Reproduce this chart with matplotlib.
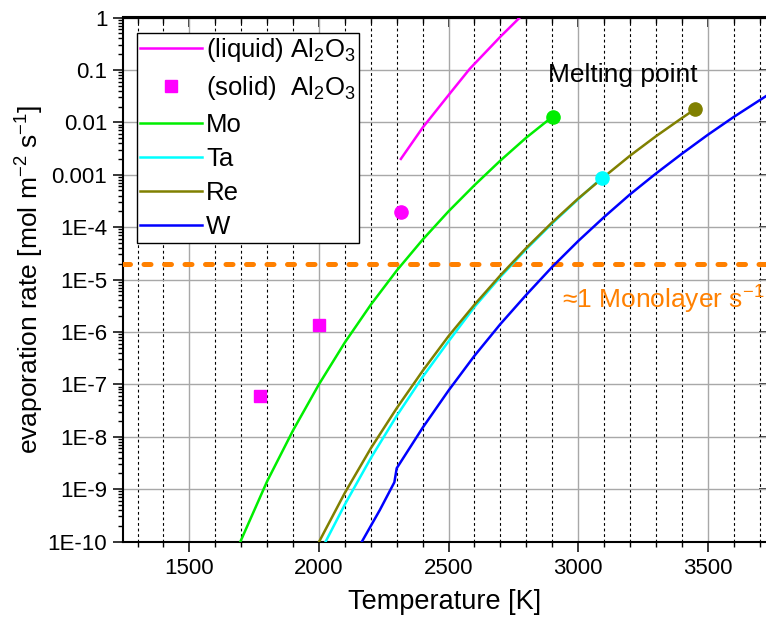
import matplotlib.pyplot as plt
from matplotlib.ticker import FixedLocator, FixedFormatter, LogLocator, MultipleLocator, NullFormatter, NullLocator

plt.rcParams['font.family'] = ['Liberation Sans', 'DejaVu Sans']
plt.rcParams['mathtext.fontset'] = 'custom'
plt.rcParams['mathtext.rm'] = 'Liberation Sans'
plt.rcParams['mathtext.it'] = 'Liberation Sans:italic'
plt.rcParams['mathtext.bf'] = 'Liberation Sans:bold'

# evaporation rates [mol m^-2 s^-1] vs temperature [K]
mo_T = [1697, 1800, 1900, 2000, 2100, 2200, 2300, 2400, 2500, 2600, 2700, 2800, 2902]
mo_rate = [1e-10, 1.41e-9, 1.32e-8, 1.0e-7, 6.3e-7, 3.3e-6, 1.48e-5, 5.75e-5, 2.0e-4, 6.3e-4, 1.86e-3, 5.1e-3, 1.29e-2]

ta_T = [2026, 2100, 2200, 2300, 2400, 2500, 2600, 2700, 2800, 2900, 3000, 3091]
ta_rate = [1e-10, 5.1e-10, 3.9e-9, 2.5e-8, 1.38e-7, 6.6e-7, 3.0e-6, 1.12e-5, 3.8e-5, 1.18e-4, 3.4e-4, 8.7e-4]

re_T = [2001, 2100, 2200, 2300, 2400, 2500, 2600, 2700, 2800, 2900, 3000, 3100, 3200, 3300, 3400, 3451]
re_rate = [1e-10, 8.5e-10, 6.0e-9, 3.5e-8, 1.8e-7, 8.3e-7, 3.3e-6, 1.2e-5, 4.0e-5, 1.23e-4, 3.5e-4, 9.1e-4, 2.3e-3, 5.4e-3, 1.2e-2, 1.78e-2]

w_T = [2166, 2235, 2291, 2300, 2400, 2500, 2600, 2700, 2800, 2900, 3000, 3100, 3200, 3300, 3400, 3500, 3600, 3700, 3725]
w_rate = [1e-10, 4.0e-10, 1.35e-9, 2.5e-9, 1.48e-8, 7.6e-8, 3.5e-7, 1.41e-6, 5.1e-6, 1.74e-5, 5.4e-5, 1.55e-4, 4.2e-4, 1.05e-3, 2.5e-3, 5.75e-3, 1.26e-2, 2.63e-2, 3.16e-2]

al2o3_liq_T = [2316, 2400, 2500, 2582, 2700, 2775]
al2o3_liq_rate = [2.0e-3, 7.9e-3, 3.3e-2, 0.105, 0.43, 1.0]

al2o3_sol_T = [1773, 2000]
al2o3_sol_rate = [6.0e-8, 1.37e-6]

# melting points: (T, rate)
melt_al2o3 = (2316, 1.96e-4)
melt_mo = (2902, 1.29e-2)
melt_ta = (3091, 8.7e-4)
melt_re = (3451, 1.78e-2)

monolayer_rate = 2e-5

ytick_vals = [1, 0.1, 0.01, 0.001, 1e-4, 1e-5, 1e-6, 1e-7, 1e-8, 1e-9, 1e-10]
ytick_labels = ["1", "0.1", "0.01", "0.001", "1E-4", "1E-5", "1E-6", "1E-7", "1E-8", "1E-9", "1E-10"]
xtick_vals = [1500, 2000, 2500, 3000, 3500]

fig = plt.figure(figsize=(7.66, 6.25), dpi=100)
ax = fig.add_axes([123.3 / 766, 1 - 541.5 / 625, 1 - 123.3 / 766, (541.5 - 17.5) / 625])

lw = 1.8
ax.plot(al2o3_liq_T, al2o3_liq_rate, color="#FF00FF", lw=lw, label="(liquid) Al$_2$O$_3$", zorder=4)
ax.plot(al2o3_sol_T, al2o3_sol_rate, ls="none", marker="s", ms=8.5, color="#FF00FF",
        label="(solid)  Al$_2$O$_3$", zorder=4)
ax.plot(mo_T, mo_rate, color="#00EE00", lw=lw, label="Mo", zorder=4)
ax.plot(ta_T, ta_rate, color="#00FFFF", lw=lw, label="Ta", zorder=4)
ax.plot(re_T, re_rate, color="#808000", lw=lw, label="Re", zorder=4)
ax.plot(w_T, w_rate, color="#0000FF", lw=lw, label="W", zorder=4)

for (t, r), c in [(melt_al2o3, "#FF00FF"), (melt_mo, "#00EE00"), (melt_ta, "#00FFFF"), (melt_re, "#808000")]:
    ax.plot([t], [r], ls="none", marker="o", ms=9.5, color=c, zorder=5)

ax.axhline(monolayer_rate, color="#FF8000", lw=3.6, ls=(0, (1.4, 2.7)), dash_capstyle="round", zorder=3)

ax.set_yscale("log")
ax.set_xlim(1245, 3725)
ax.set_ylim(1e-10, 1)

ax.yaxis.set_major_locator(FixedLocator(ytick_vals))
ax.yaxis.set_major_formatter(FixedFormatter(ytick_labels))
ax.yaxis.set_minor_locator(LogLocator(base=10, subs=range(2, 10), numticks=30))
ax.yaxis.set_minor_formatter(NullFormatter())
ax.xaxis.set_major_locator(FixedLocator(xtick_vals))
ax.xaxis.set_minor_locator(MultipleLocator(100))

ax.tick_params(axis="both", which="major", direction="out", length=7, width=1.1, labelsize=16, pad=4.5)
ax.tick_params(axis="both", which="minor", direction="out", length=3.5, width=1.0)
ax.tick_params(axis="x", which="major", pad=5)
for s in ["left", "bottom", "top"]:
    ax.spines[s].set_linewidth(1.5)
ax.spines["right"].set_visible(False)

# grid: grey solid on major positions, black dashes on every 100 K
ax.grid(which="major", axis="both", color="#A8A8A8", lw=1.0, ls="-", zorder=0)
ax.grid(which="minor", axis="x", color="black", lw=0.8, ls=(0, (2.5, 2.5)), zorder=0)
ax.set_axisbelow(True)

# top and right axes with inward ticks
top = ax.secondary_xaxis("top")
top.xaxis.set_major_locator(FixedLocator(xtick_vals))
top.xaxis.set_minor_locator(MultipleLocator(100))
top.tick_params(which="major", direction="in", length=7, width=1.1, labeltop=False)
top.tick_params(which="minor", direction="in", length=4.5, width=1.0)
top.spines["top"].set_linewidth(1.5)

right = ax.secondary_yaxis("right")
right.yaxis.set_major_locator(FixedLocator(ytick_vals))
right.yaxis.set_minor_locator(NullLocator())
right.tick_params(which="major", direction="in", length=5, width=1.1, labelright=False)
right.spines["right"].set_visible(False)

ax.set_xlabel("Temperature [K]", fontsize=19.5, labelpad=7)
ax.set_ylabel("evaporation rate [mol m$^{-2}$ s$^{-1}$]", fontsize=19, labelpad=1.5)

ax.text(2884, 0.08, "Melting point", fontsize=19, ha="left", va="center")
ax.text(2937, 4.1e-6, "\u22481 Monolayer s$^{-1}$", fontsize=19, color="#FF8000", ha="left", va="center")

leg = ax.legend(loc="upper left", bbox_to_anchor=(14 / 642.7, 1 - 15.5 / 524), borderaxespad=0,
                fontsize=18.5, frameon=True, fancybox=False, edgecolor="black", framealpha=1,
                handlelength=2.4, handletextpad=0.15, labelspacing=0.40, borderpad=0.12)
leg.get_frame().set_linewidth(1.0)
leg.set_zorder(6)

fig.savefig("out.png", dpi=100)
